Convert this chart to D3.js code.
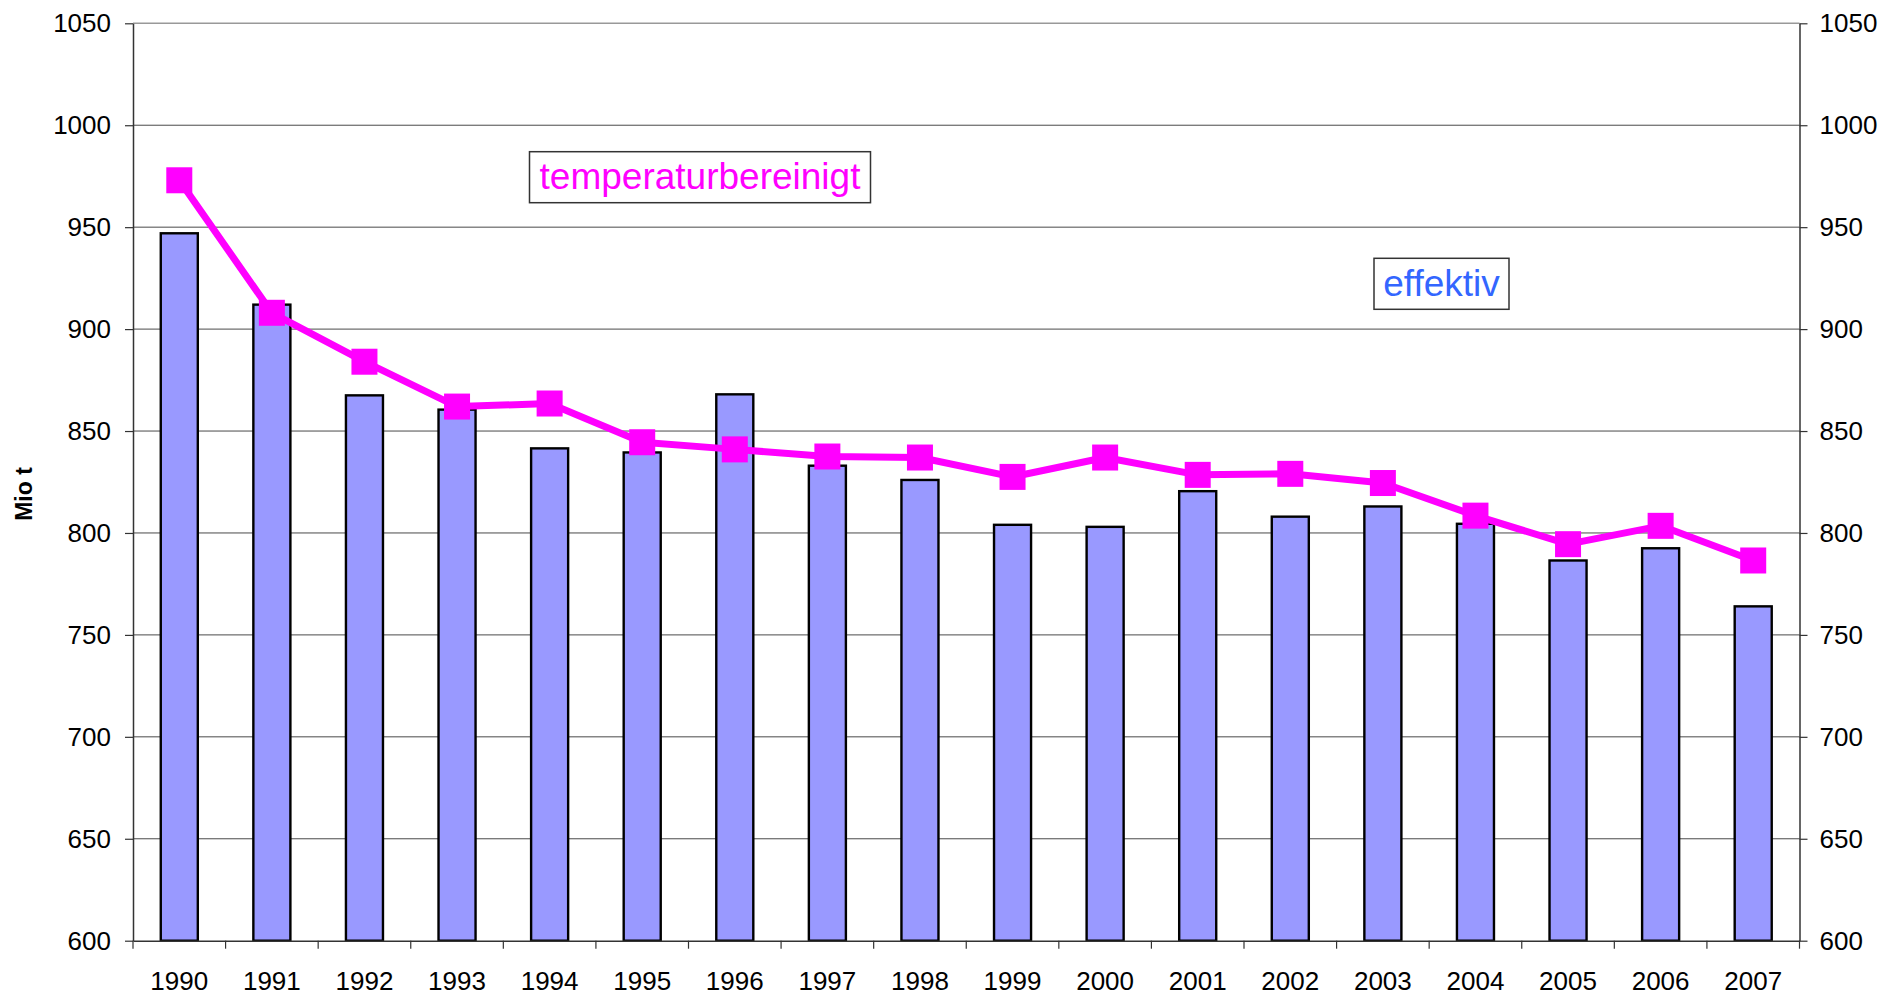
<!DOCTYPE html>
<html>
<head>
<meta charset="utf-8">
<script src="https://cdn.jsdelivr.net/npm/d3@7"></script>
<style>
  html, body { margin: 0; padding: 0; background: #fff; }
  svg text { font-family: "Liberation Sans", Arial, sans-serif; }
</style>
</head>
<body>
<div id="chart"></div>
<script>
// data
const years = ["1990","1991","1992","1993","1994","1995","1996","1997","1998","1999","2000","2001","2002","2003","2004","2005","2006","2007"];
const effektiv = [947, 912, 867.5, 860.5, 841.5, 839.5, 868, 833, 826, 804, 803, 820.5, 808, 813, 804.5, 786.5, 792.5, 764];
const temperaturbereinigt = [973, 908, 884, 862, 863.5, 844.5, 841, 837.5, 837, 827.5, 837, 828.5, 829, 824.5, 808.5, 794.5, 803.5, 786.5];
const yTicks = [600, 650, 700, 750, 800, 850, 900, 950, 1000, 1050];

// svg size
const width = 1901;
const height = 995;
const padding = { left: 133, right: 101.5, top: 23.3, bottom: 54.3 };

const svg = d3.select("#chart")
  .append("svg")
  .attr("width", width)
  .attr("height", height);

// scales
const xScale = d3.scaleBand()
  .domain(years)
  .range([padding.left, width - padding.right])
  .padding(0);

const yScale = d3.scaleLinear()
  .domain([600, 1050])
  .range([height - padding.bottom, padding.top]);

const barWidth = xScale.bandwidth() * 0.4;
const mid = d => xScale(d) + xScale.bandwidth() / 2;

// gridlines
svg.append("g")
  .selectAll("line")
  .data(yTicks.filter(t => t > 600 && t < 1050))
  .enter().append("line")
  .attr("x1", padding.left)
  .attr("x2", width - padding.right)
  .attr("y1", d => yScale(d))
  .attr("y2", d => yScale(d))
  .attr("stroke", "#4a4a4a")
  .attr("stroke-width", 1);

// top border of plot area
svg.append("line")
  .attr("x1", padding.left)
  .attr("x2", width - padding.right)
  .attr("y1", yScale(1050))
  .attr("y2", yScale(1050))
  .attr("stroke", "#999")
  .attr("stroke-width", 1.5);

// bars
svg.selectAll("rect.bar")
  .data(effektiv)
  .enter().append("rect")
  .attr("class", "bar")
  .attr("x", (d, i) => mid(years[i]) - barWidth / 2)
  .attr("y", d => yScale(d))
  .attr("width", barWidth)
  .attr("height", d => yScale(600) - yScale(d))
  .attr("fill", "#9999ff")
  .attr("stroke", "#000")
  .attr("stroke-width", 2.4);

// axes
const fmt = d3.format("d");
const yAxisLeft = d3.axisLeft(yScale).tickValues(yTicks).tickFormat(fmt).tickSize(8).tickPadding(14);
const yAxisRight = d3.axisRight(yScale).tickValues(yTicks).tickFormat(fmt).tickSize(8).tickPadding(12);

function styleAxis(g) {
  g.select(".domain").attr("stroke", "#333").attr("stroke-width", 1.5);
  g.selectAll(".tick line").attr("stroke", "#333").attr("stroke-width", 1.2);
  g.selectAll(".tick text").attr("fill", "#000").style("font-size", "26px");
}

svg.append("g")
  .attr("transform", "translate(" + padding.left + ",0)")
  .call(yAxisLeft.tickSizeOuter(0))
  .call(styleAxis);

svg.append("g")
  .attr("transform", "translate(" + (width - padding.right) + ",0)")
  .call(yAxisRight.tickSizeOuter(0))
  .call(styleAxis);

// x axis: labels in band centers, ticks at band edges
const xAxis = d3.axisBottom(xScale).tickSize(0).tickPadding(31).tickSizeOuter(0);
const xg = svg.append("g")
  .attr("transform", "translate(0," + yScale(600) + ")")
  .call(xAxis)
  .call(styleAxis);

const edges = years.map(y => xScale(y)).concat([xScale.range()[1]]);
xg.selectAll("line.edge")
  .data(edges)
  .enter().append("line")
  .attr("class", "edge")
  .attr("x1", d => d)
  .attr("x2", d => d)
  .attr("y1", 0)
  .attr("y2", 8)
  .attr("stroke", "#333")
  .attr("stroke-width", 1.2);

// line series
const line = d3.line()
  .x((d, i) => mid(years[i]))
  .y(d => yScale(d));

svg.append("path")
  .datum(temperaturbereinigt)
  .attr("d", line)
  .attr("fill", "none")
  .attr("stroke", "#ff00ff")
  .attr("stroke-width", 7)
  .attr("stroke-linejoin", "round");

const markerSize = 26;
svg.selectAll("rect.marker")
  .data(temperaturbereinigt)
  .enter().append("rect")
  .attr("class", "marker")
  .attr("x", (d, i) => mid(years[i]) - markerSize / 2)
  .attr("y", d => yScale(d) - markerSize / 2)
  .attr("width", markerSize)
  .attr("height", markerSize)
  .attr("fill", "#ff00ff");

// axis title
svg.append("text")
  .attr("transform", "translate(32," + ((yScale(600) + yScale(1050)) / 2 + 12) + ") rotate(-90)")
  .attr("text-anchor", "middle")
  .style("font-size", "23px")
  .style("font-weight", "bold")
  .text("Mio t");

// series labels
function labelBox(x, y, w, h, txt, color) {
  svg.append("rect")
    .attr("x", x).attr("y", y)
    .attr("width", w).attr("height", h)
    .attr("fill", "#fff")
    .attr("stroke", "#333")
    .attr("stroke-width", 1.5);
  svg.append("text")
    .attr("x", x + w / 2)
    .attr("y", y + h - 13.5)
    .attr("text-anchor", "middle")
    .attr("fill", color)
    .style("font-size", "37px")
    .text(txt);
}

labelBox(529.5, 151.7, 341, 51, "temperaturbereinigt", "#ff00ff");
labelBox(1374, 258.3, 135, 51, "effektiv", "#3366ff");
</script>
</body>
</html>
